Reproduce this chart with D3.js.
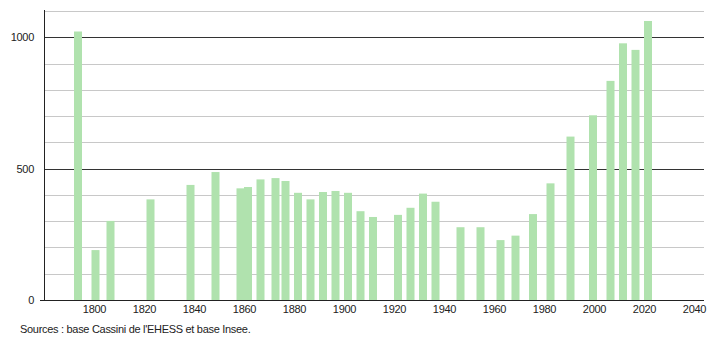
<!DOCTYPE html>
<html>
<head>
<meta charset="utf-8">
<script src="https://cdn.jsdelivr.net/npm/d3@7"></script>
<style>
  body { margin: 0; background: #fff; }
  svg text { font-family: "Liberation Sans", Arial, sans-serif; font-size: 11px; fill: #222; }
</style>
</head>
<body>
<svg id="chart"></svg>
<script>
// census years and population
const years = [1793, 1800, 1806, 1822, 1838, 1848, 1858, 1861, 1866, 1872, 1876, 1881, 1886, 1891, 1896, 1901, 1906, 1911,
  1921, 1926, 1931, 1936, 1946, 1954, 1962, 1968, 1975, 1982, 1990, 1999, 2006, 2011, 2016, 2021];
const population = [1022, 190, 301, 383, 438, 487, 425, 430, 459, 464, 453, 408, 383, 411, 415, 408, 338, 316,
  324, 351, 405, 374, 277, 277, 228, 245, 327, 444, 622, 703, 834, 977, 952, 1062];
const xTicks = [1800, 1820, 1840, 1860, 1880, 1900, 1920, 1940, 1960, 1980, 2000, 2020, 2040];
const yTicks = [0, 500, 1000];
const gridValues = d3.range(100, 1101, 100);
const sourceText = "Sources : base Cassini de l'EHESS et base Insee.";

const config = { width: 710, height: 340, left: 44, right: 704, top: 11, bottom: 300, barWidth: 8 };

const svg = d3.select('#chart')
    .attr('width', config.width)
    .attr('height', config.height);

const xScale = d3.scaleLinear()
    .domain([1800, 2020])
    .range([94.5, 644.5]);

const yScale = d3.scaleLinear()
    .domain([0, 1100])
    .range([config.bottom, config.top]);

// horizontal gridlines, darker at 500 and 1000
svg.append('g')
  .selectAll('line')
  .data(gridValues)
  .join('line')
    .attr('x1', config.left)
    .attr('x2', config.right)
    .attr('y1', d => Math.round(yScale(d)) + 0.5)
    .attr('y2', d => Math.round(yScale(d)) + 0.5)
    .attr('stroke', d => d % 500 === 0 ? '#333' : '#c8c8c8')
    .attr('stroke-width', 1);

// bars
const data = years.map((y, i) => ({ year: y, value: population[i] }));
svg.append('g')
  .selectAll('rect')
  .data(data)
  .join('rect')
    .attr('x', d => xScale(d.year) - config.barWidth / 2 + 1)
    .attr('width', config.barWidth)
    .attr('y', d => yScale(d.value))
    .attr('height', d => config.bottom - yScale(d.value))
    .attr('fill', '#b0e2ae');

// axes lines
svg.append('line')
    .attr('x1', config.left + 0.5).attr('x2', config.left + 0.5)
    .attr('y1', 10).attr('y2', config.bottom)
    .attr('stroke', '#222');
svg.append('line')
    .attr('x1', 40).attr('x2', config.right)
    .attr('y1', config.bottom + 0.5).attr('y2', config.bottom + 0.5)
    .attr('stroke', '#222');

// y labels
svg.append('g')
  .selectAll('text')
  .data(yTicks)
  .join('text')
    .attr('x', 34)
    .attr('y', d => yScale(d) + 4)
    .attr('text-anchor', 'end')
    .style('letter-spacing', '-0.3px')
    .text(d => d);

// x labels
svg.append('g')
  .selectAll('text')
  .data(xTicks)
  .join('text')
    .attr('x', d => xScale(d))
    .attr('y', 313)
    .attr('text-anchor', 'middle')
    .style('letter-spacing', '-0.3px')
    .text(d => d);

svg.append('text')
    .attr('x', 20)
    .attr('y', 333)
    .style('letter-spacing', '-0.3px')
    .text(sourceText);
</script>
</body>
</html>
